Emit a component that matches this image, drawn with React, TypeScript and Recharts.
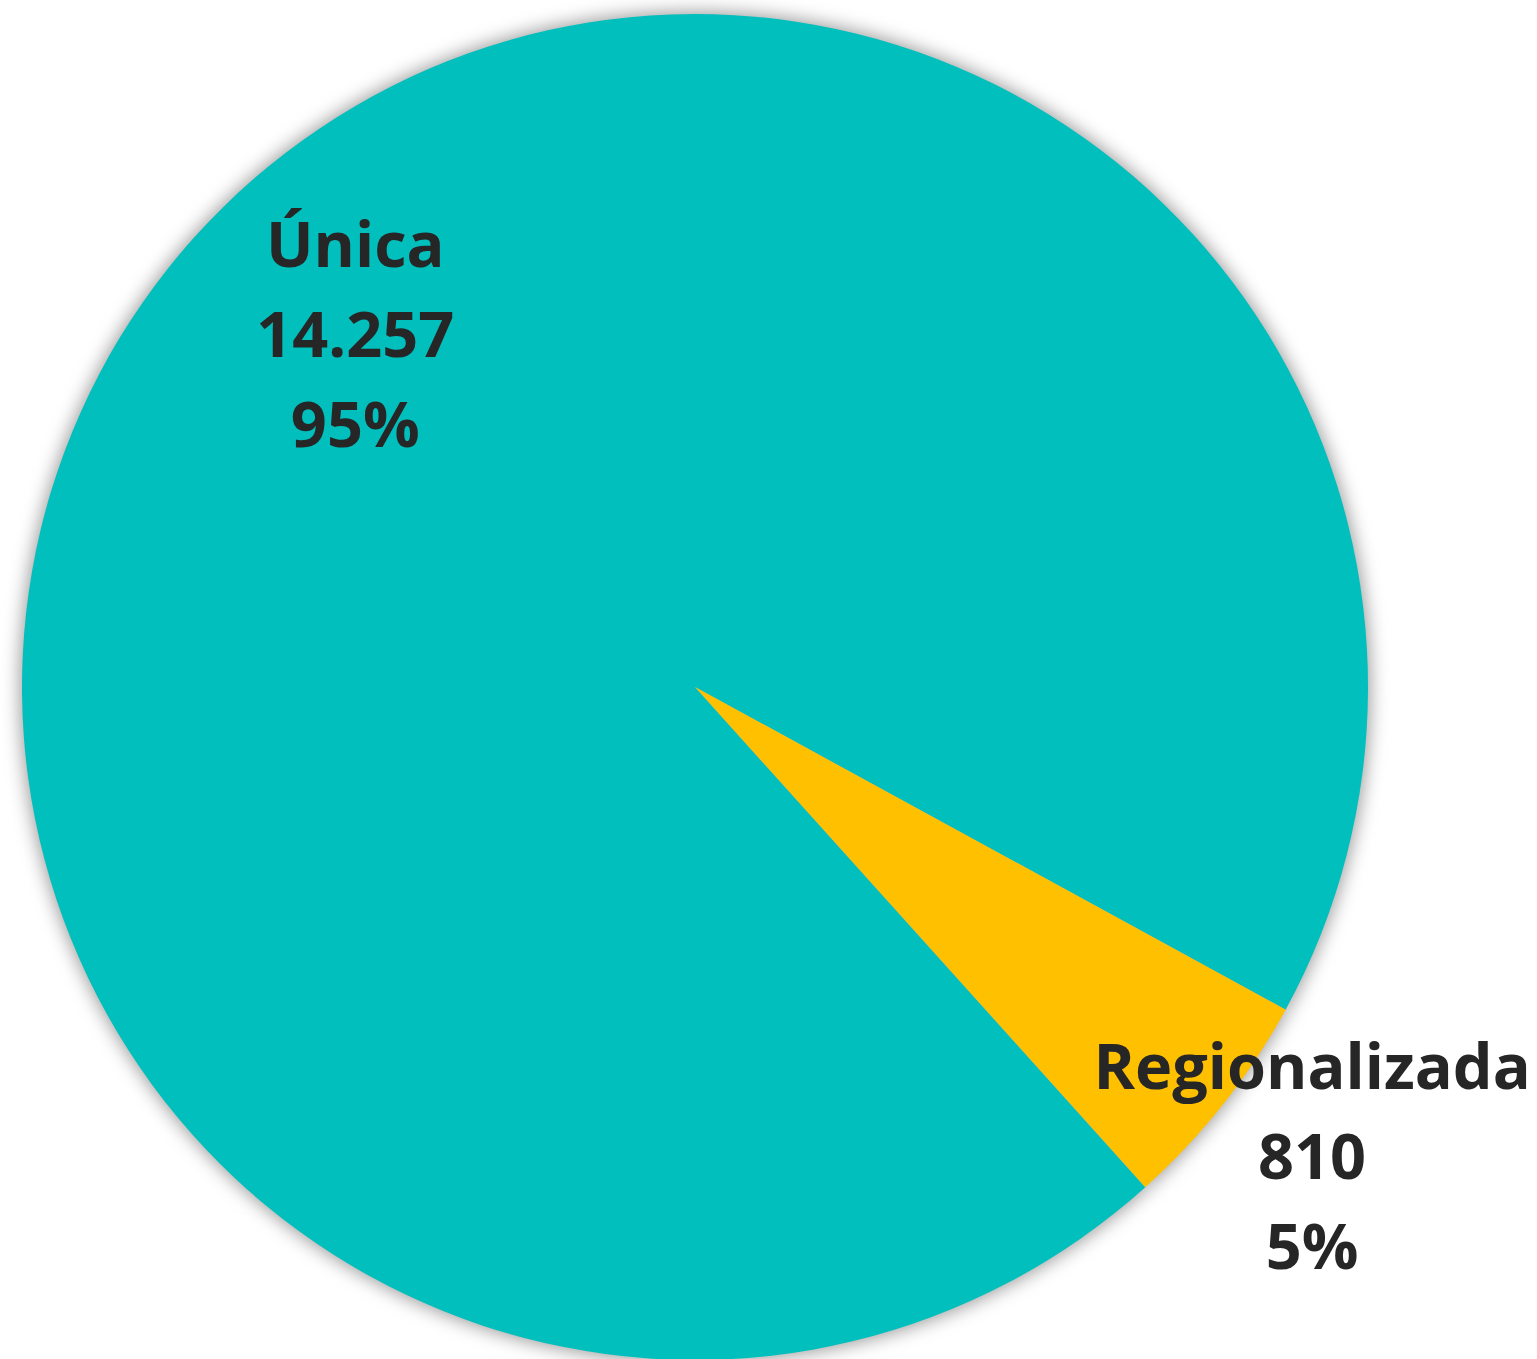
import { PieChart, Pie, Cell } from 'recharts'

const categories = ['Única', 'Regionalizada']
const values = [14257, 810]
const percents = ['95%', '5%']
const valueLabels = ['14.257', '810']
const colors = ['#00BFBC', '#FFC000']

const data = categories.map((name, i) => ({ name, value: values[i], pct: percents[i], txt: valueLabels[i] }))

// label placement: radius factor and angle nudge per slice (Excel "best fit" look)
const labelRadius = [0.727, 1.153]
const labelAngleShift = [-7.7, 1.0]
const RAD = Math.PI / 180

const renderLabel = (props: any) => {
  const { cx, cy, midAngle, outerRadius, index, payload } = props
  const r = outerRadius * labelRadius[index]
  const a = (midAngle + labelAngleShift[index]) * RAD
  const x = cx + r * Math.cos(a)
  const y = cy - r * Math.sin(a)
  const lines = [payload.name, payload.txt, payload.pct]
  return (
    <text
      x={x}
      y={y}
      textAnchor="middle"
      fill="#262626"
      fontFamily="'Open Sans', sans-serif"
      fontWeight={700}
      fontSize={63}
    >
      {lines.map((l, i) => (
        <tspan key={i} x={x} y={y + (i - 1) * 90 + 22}>
          {l}
        </tspan>
      ))}
    </text>
  )
}

const App = () => {
  return (
    <div style={{ position: 'absolute', left: 0, top: 0, width: 1537, height: 1359, background: '#fff' }}>
      <PieChart width={1537} height={1359} margin={{ top: 0, right: 0, bottom: 0, left: 0 }}>
        {/* soft glow behind the pie */}
        <Pie
          data={data}
          dataKey="value"
          cx={695}
          cy={687}
          outerRadius={675}
          startAngle={312}
          endAngle={-48}
          stroke="none"
          fill="#9a9a9a"
          style={{ filter: 'blur(9px)' }}
          label={false}
          labelLine={false}
          isAnimationActive={false}
        />
        <Pie
          data={data}
          dataKey="value"
          nameKey="name"
          cx={695}
          cy={687}
          outerRadius={673}
          startAngle={312}
          endAngle={-48}
          stroke="none"
          label={renderLabel}
          labelLine={false}
          isAnimationActive={false}
        >
          {data.map((d, i) => (
            <Cell key={d.name} fill={colors[i]} />
          ))}
        </Pie>
      </PieChart>
    </div>
  )
}

export default App
